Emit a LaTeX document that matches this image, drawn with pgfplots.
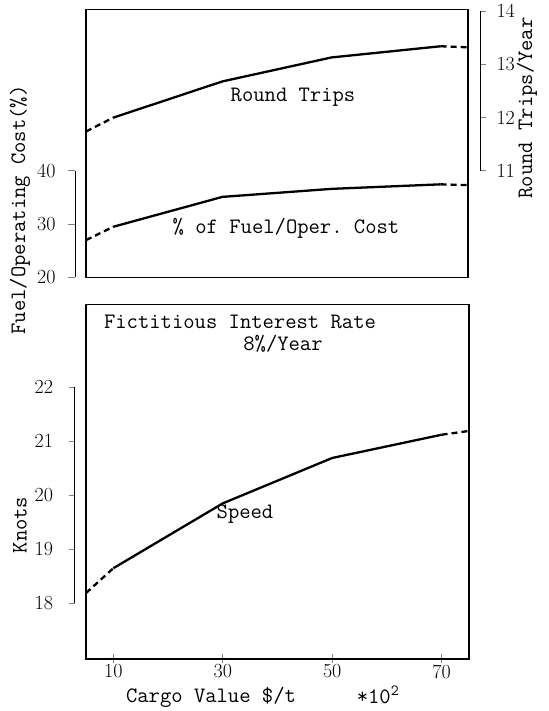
\documentclass[border=0pt]{standalone}
\usepackage{pgfplots}
\pgfplotsset{compat=1.18}
\usepackage{fontspec}
\setmonofont{Latin Modern Mono}
\newcommand{\txt}{\ttfamily\fontsize{22}{25}\selectfont}
\newcommand{\tck}{\rmfamily\fontsize{20}{22}\selectfont}

\pgfplotstableread{
x y
5 27.0
10 29.5
}\fuelA
\pgfplotstableread{
x y
10 29.5
30 35.1
50 36.6
70 37.45
}\fuelB
\pgfplotstableread{
x y
70 37.45
75 37.3
}\fuelC
\pgfplotstableread{
x y
5 11.74
10 12.0
}\tripA
\pgfplotstableread{
x y
10 12.0
30 12.68
50 13.13
70 13.34
}\tripB
\pgfplotstableread{
x y
70 13.34
75 13.32
}\tripC
\pgfplotstableread{
x y
5 18.19
10 18.65
}\spdA
\pgfplotstableread{
x y
10 18.65
30 19.85
50 20.69
70 21.12
}\spdB
\pgfplotstableread{
x y
70 21.12
75 21.19
}\spdC

\begin{document}
\begin{tikzpicture}[x=1pt,y=1pt]
\useasboundingbox (0pt,0pt) rectangle (548pt,711pt);
\pgfplotsset{
  base/.style={scale only axis, anchor=south west, xmin=5, xmax=75,
    /pgf/number format/assume math mode=true,
    tick label style={font=\tck}, clip=false},
  solid curve/.style={black, line width=2.3pt, line join=round},
  dash curve/.style={black, line width=2.3pt, dash pattern=on 6pt off 4pt},
}
% ---- top panel: fuel
\begin{axis}[base, at={(86pt,433.5pt)}, width=382pt, height=268pt,
  ymin=20, ymax=70.2, xtick=\empty, ytick=\empty,
  axis line style={line width=1.7pt}]
\addplot[dash curve] table[x=x,y=y]{\fuelA};
\addplot[solid curve] table[x=x,y=y]{\fuelB};
\addplot[dash curve] table[x=x,y=y]{\fuelC};
\end{axis}
% ---- top panel: round trips
\begin{axis}[base, at={(86pt,433.5pt)}, width=382pt, height=268pt,
  ymin=9, ymax=14.03, hide axis]
\addplot[dash curve] table[x=x,y=y]{\tripA};
\addplot[solid curve] table[x=x,y=y]{\tripB};
\addplot[dash curve] table[x=x,y=y]{\tripC};
\end{axis}
% ---- fuel ruler (left)
\begin{axis}[base, at={(75pt,433.5pt)}, width=382pt, height=268pt,
  ymin=20, ymax=70.2, axis x line=none, axis y line*=left,
  y axis line style={draw=none}, xtick=\empty, ytick={20,30,40},
  tick align=outside, major tick length=7pt,
  ytick style={line width=0.9pt},
  yticklabel style={xshift=-9pt}]
\draw[line width=0.9pt] (axis cs:5,20) -- (axis cs:5,40);
\end{axis}
% ---- round trips ruler (right)
\begin{axis}[base, at={(98pt,433.5pt)}, width=382pt, height=268pt,
  ymin=9, ymax=14.03, axis x line=none, axis y line*=right,
  y axis line style={draw=none}, xtick=\empty, ytick={11,12,13,14},
  tick align=outside, major tick length=6pt,
  ytick style={line width=0.9pt},
  yticklabel style={xshift=7pt}]
\draw[line width=0.9pt] (axis cs:75,11) -- (axis cs:75,14);
\end{axis}
% ---- bottom panel: speed
\begin{axis}[base, at={(86pt,52pt)}, width=383pt, height=354.5pt,
  ymin=16.97, ymax=23.53, ytick=\empty, xtick={10,30,50,70},
  xtick pos=lower,
  axis line style={line width=1.7pt},
  tick align=center, major tick length=9pt,
  xtick style={line width=1.2pt},
  xticklabel style={yshift=0pt, inner sep=1pt}]
\addplot[dash curve] table[x=x,y=y]{\spdA};
\addplot[solid curve] table[x=x,y=y]{\spdB};
\addplot[dash curve] table[x=x,y=y]{\spdC};
\end{axis}
% ---- knots ruler
\begin{axis}[base, at={(74.5pt,52pt)}, width=383pt, height=354.5pt,
  ymin=16.97, ymax=23.53, axis x line=none, axis y line*=left,
  y axis line style={draw=none}, xtick=\empty, ytick={18,19,20,21,22},
  tick align=outside, major tick length=6pt,
  ytick style={line width=0.9pt},
  yticklabel style={xshift=-12pt}]
\draw[line width=0.9pt] (axis cs:5,18) -- (axis cs:5,22);
\end{axis}
% ---- texts
\begin{scope}[every node/.style={inner sep=0pt}]
\node[font=\txt] at (293pt,614pt) {Round Trips};
\node[font=\txt] at (286pt,483pt) {\% of Fuel/Oper. Cost};
\node[font=\txt] at (240pt,389pt) {Fictitious Interest Rate};
\node[font=\txt] at (283pt,367pt) {8\%/Year};
\node[font=\txt] at (245pt,197pt) {Speed};
\node[font=\txt, rotate=90] at (20pt,501pt) {Fuel/Operating Cost(\%)};
\node[font=\txt, rotate=90] at (20pt,186pt) {Knots};
\node[font=\txt, rotate=90] at (527pt,603pt) {Round Trips/Year};
\node[font=\txt] at (211pt,14pt) {Cargo Value \$/t};
\node[font=\txt] at (378pt,16pt) {*10\textsuperscript{2}};
\end{scope}
\end{tikzpicture}
\end{document}
